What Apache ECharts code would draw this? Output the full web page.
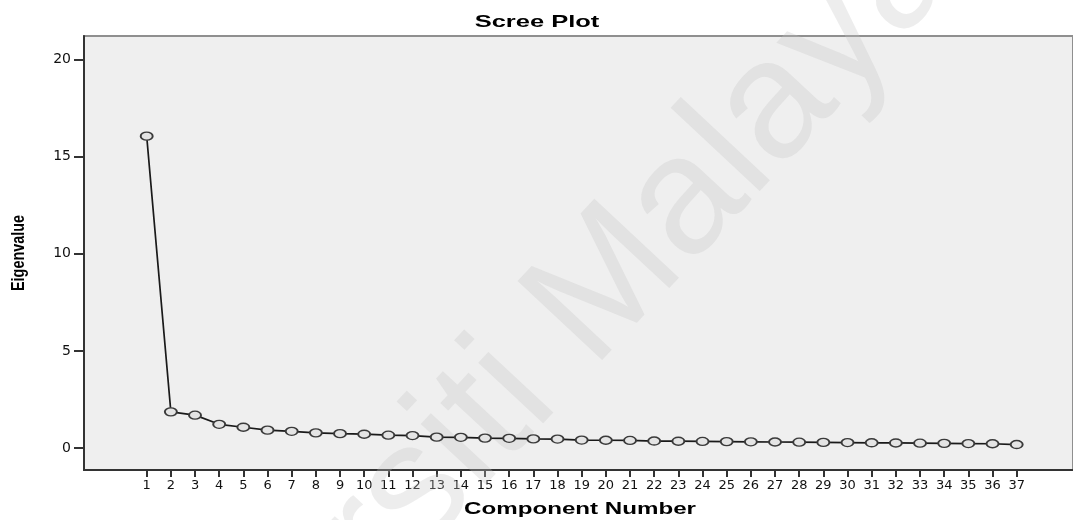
<!DOCTYPE html>
<html>
<head>
<meta charset="utf-8">
<script src="https://cdn.jsdelivr.net/npm/echarts@6/dist/echarts.min.js"></script>
<style>
html,body{margin:0;padding:0;background:#fff;}
#chart{width:1073px;height:520px;}
</style>
</head>
<body>
<div id="chart"></div>
<script>
const components = [1,2,3,4,5,6,7,8,9,10,11,12,13,14,15,16,17,18,19,20,21,22,23,24,25,26,27,28,29,30,31,32,33,34,35,36,37];
const eigenvalues = [16.05,1.87,1.70,1.23,1.08,0.93,0.87,0.79,0.75,0.72,0.67,0.65,0.57,0.56,0.52,0.51,0.48,0.47,0.42,0.41,0.40,0.37,0.36,0.35,0.34,0.33,0.32,0.31,0.30,0.29,0.28,0.27,0.26,0.25,0.24,0.23,0.19];
const yTicks = [0,5,10,15,20];
const titleText = 'Scree Plot';
const xName = 'Component Number';
const yName = 'Eigenvalue';
const watermark = 'Universiti Malaya';

const chart = echarts.init(document.getElementById('chart'), null, {renderer:'canvas'});
const tickFont = '"DejaVu Sans", "Liberation Sans", sans-serif';
chart.setOption({
  animation:false,
  backgroundColor:'#ffffff',
  graphic:[
    {type:'text', z:1, silent:true, x:492, y:410, rotation:0.82,
     style:{text:watermark, fill:'rgba(195,195,195,0.3)',
       font:'168px "Liberation Sans", Arial, sans-serif', align:'center', verticalAlign:'middle'}},
    {type:'text', z:10, silent:true, x:537, y:22, scaleX:1.5,
     style:{text:titleText, fill:'#000', font:'bold 17px "Liberation Sans", Arial, sans-serif', align:'center', verticalAlign:'middle'}},
    {type:'text', z:10, silent:true, x:580, y:509, scaleX:1.42,
     style:{text:xName, fill:'#000', font:'bold 17px "Liberation Sans", Arial, sans-serif', align:'center', verticalAlign:'middle'}},
    {type:'text', z:10, silent:true, x:19, y:253, rotation:Math.PI/2, scaleX:0.8,
     style:{text:yName, fill:'#000', font:'bold 18px "Liberation Sans", Arial, sans-serif', align:'center', verticalAlign:'middle'}}
  ],
  grid:{left:84,top:36,right:-3,bottom:50,show:true,backgroundColor:'#efefef',borderColor:'#8f8f8f',borderWidth:2},
  xAxis:{type:'value',min:-1.594,max:39.33,
    axisLine:{show:true,onZero:false,lineStyle:{color:'#333',width:2}},
    axisTick:{show:true,length:7,customValues:components,lineStyle:{color:'#333',width:2}},
    axisLabel:{customValues:components,fontFamily:tickFont,fontSize:13,color:'#111',margin:9},
    splitLine:{show:false}},
  yAxis:{type:'value',min:-1.12,max:21.2,
    axisLine:{show:true,onZero:false,lineStyle:{color:'#333',width:2}},
    axisTick:{show:true,length:10,customValues:yTicks,lineStyle:{color:'#333',width:2}},
    axisLabel:{customValues:yTicks,fontFamily:tickFont,fontSize:14,color:'#111',margin:13},
    splitLine:{show:false}},
  series:[{
    type:'line',
    data:components.map((c,i)=>[c,eigenvalues[i]]),
    symbol:'circle',symbolSize:[12,8],
    lineStyle:{color:'#1a1a1a',width:1.7},
    itemStyle:{color:'#e4e4e4',borderColor:'#3a3a3a',borderWidth:1.6},
    z:3
  }]
});
</script>
</body>
</html>
